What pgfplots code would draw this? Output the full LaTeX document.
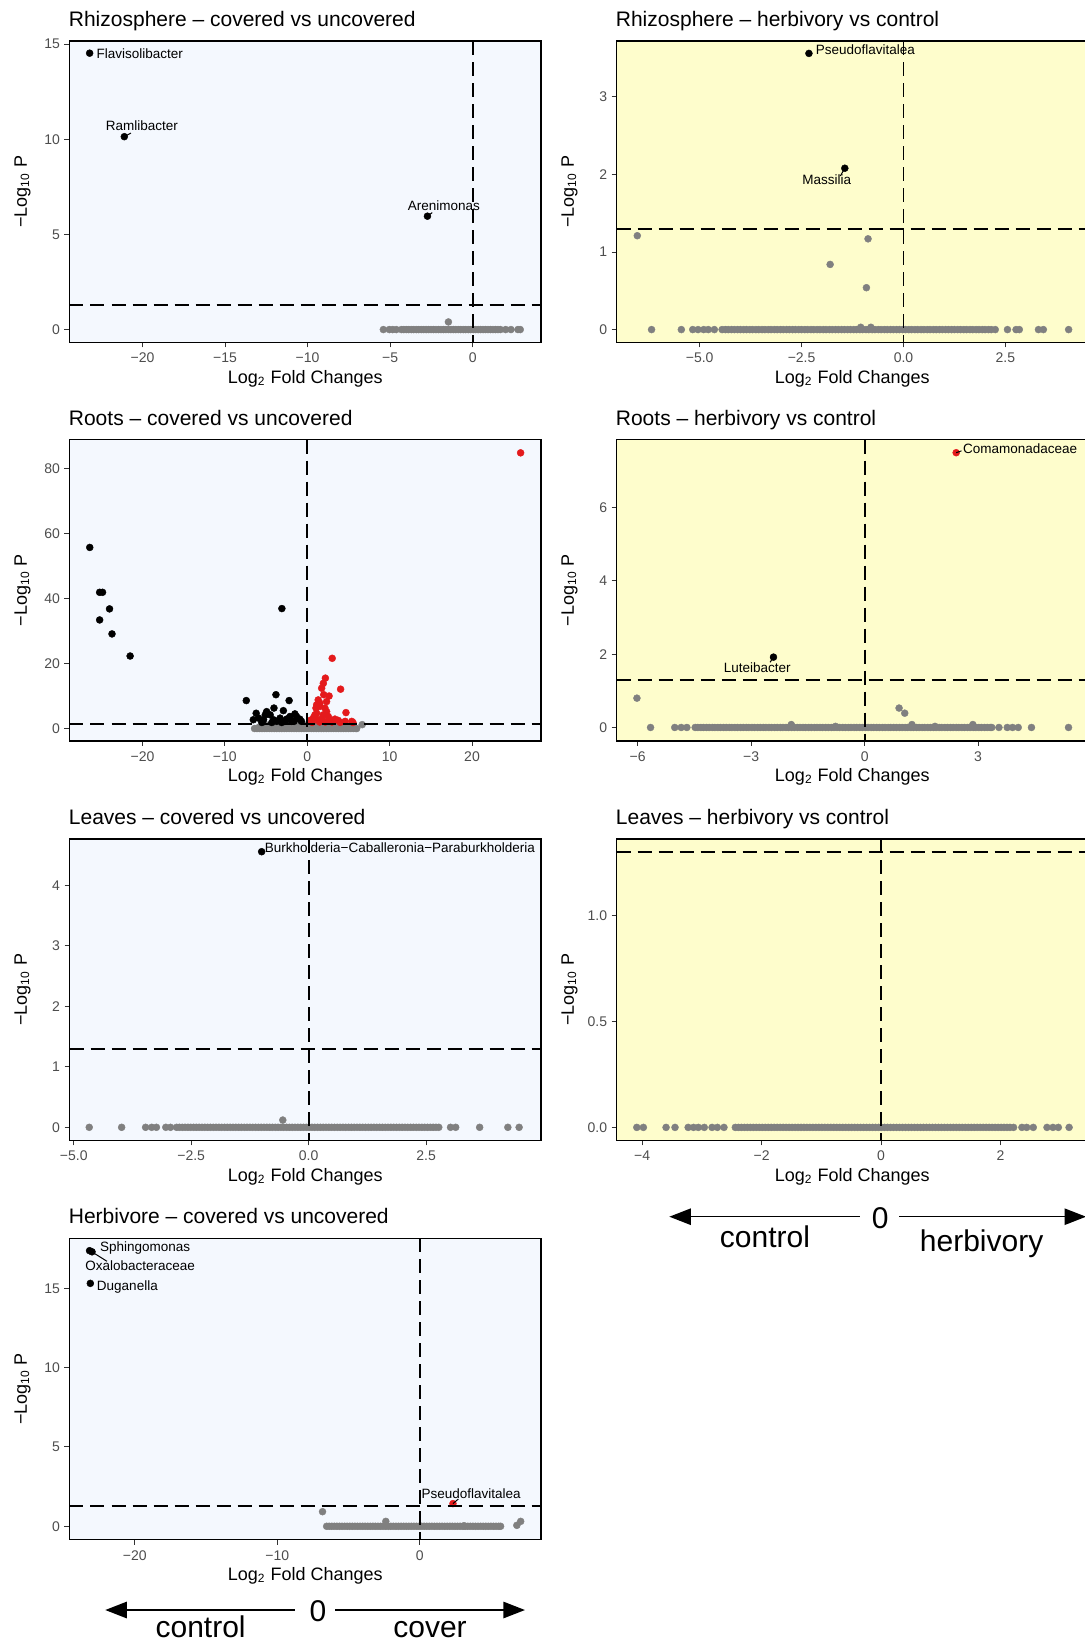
\documentclass[border=0pt]{standalone}
\usepackage{pgfplots}
\pgfplotsset{compat=1.18}
\usepackage{fontspec}
\setmainfont{Liberation Sans}
\definecolor{bgblue}{HTML}{F4F8FE}
\definecolor{bgyellow}{HTML}{FEFDCC}
\definecolor{ptgrey}{HTML}{808080}
\definecolor{ptred}{HTML}{E41A1C}
\definecolor{tickgrey}{HTML}{4D4D4D}
\newcommand\titlefont{\fontsize{10.5}{12}\selectfont}
\newcommand\labfont{\fontsize{9}{10.8}\selectfont}
\newcommand\tickfont{\fontsize{7}{8.4}\selectfont}
\newcommand\genefont{\fontsize{6.75}{8}\selectfont}
\newcommand\bigfont{\fontsize{15}{18}\selectfont}
\tikzset{
  thr/.style={line width=0.9pt, dash pattern=on 7pt off 3.5pt},
  lab/.style={font=\genefont, inner sep=0pt},
  seg/.style={line width=0.5pt},
}
\pgfplotsset{
  vol/.style={
    scale only axis, width=235.85pt, height=150.65pt,
    anchor=north west,
    tick pos=left, tick align=outside, major tick length=2.5pt,
    tick style={line width=0.5pt, black!80},
    axis line style={line width=0.8pt},
    ticklabel style={font=\tickfont, text=tickgrey},
    xticklabel style={anchor=base, yshift=-7.7pt},
    yticklabel style={anchor=east, xshift=1.3pt},
    every axis title/.style={at={(axis description cs:0,1)}, anchor=base west, yshift=7.2pt, xshift=-0.5pt, inner sep=0pt, font=\titlefont},
    xlabel={Log\textsubscript{2} Fold Changes},
    ylabel={−Log\textsubscript{10} P},
    every axis x label/.style={at={(axis description cs:0.5,0)}, anchor=base, yshift=-20.5pt, font=\labfont},
    every axis y label/.style={at={(axis description cs:-0.0996,0.5)}, rotate=90, anchor=center, font=\labfont},
    clip mode=individual,
  },
  leftbg/.style={axis background/.style={fill=bgblue}},
  rightbg/.style={axis background/.style={fill=bgyellow}},
  gpt/.style={only marks, mark=*, mark size=1.75pt, color=ptgrey, mark options={line width=0.2pt}},
  bpt/.style={only marks, mark=*, mark size=1.75pt, color=black, mark options={line width=0.2pt}},
  rpt/.style={only marks, mark=*, mark size=1.75pt, color=ptred, mark options={line width=0.2pt}},
}
\begin{document}
\begin{tikzpicture}
% ---------- Panel 1 ----------
\begin{axis}[vol, leftbg, at={(34.75pt,-20.5pt)},
  title={Rhizosphere – covered vs uncovered},
  xmin=-24.42, xmax=4.15, ymin=-0.67, ymax=15.17,
  xtick={-20,-15,-10,-5,0}, xticklabels={−20,−15,−10,−5,0},
  ytick={0,5,10,15}, yticklabels={0,5,10,15}]
\addplot[gpt] coordinates {(-1.47,0.4)
 (-5.41,0) (-5.05,0) (-4.84,0) (-4.63,0)
 (-4.32,0) (-4.17,0) (-4.02,0) (-3.87,0) (-3.72,0) (-3.57,0) (-3.42,0) (-3.27,0) (-3.12,0) (-2.97,0) (-2.82,0) (-2.67,0) (-2.52,0) (-2.37,0) (-2.22,0) (-2.07,0) (-1.92,0) (-1.77,0) (-1.62,0) (-1.47,0) (-1.32,0) (-1.17,0) (-1.02,0) (-0.87,0) (-0.72,0) (-0.57,0) (-0.42,0) (-0.27,0) (-0.12,0) (0.03,0) (0.18,0) (0.33,0) (0.48,0) (0.63,0) (0.78,0) (0.93,0) (1.08,0) (1.23,0) (1.38,0) (1.53,0) (1.68,0)
 (2.0,0) (2.32,0) (2.74,0) (2.88,0)};
\addplot[bpt] coordinates {(-23.2,14.53) (-21.1,10.14) (-2.74,5.96)};
\draw[thr] (axis cs:-24.42,1.301) -- (axis cs:4.15,1.301);
\draw[thr] (axis cs:0,15.17) -- (axis cs:0,-0.67);
\draw[seg] (axis cs:-21.1,10.14) -- (axis cs:-20.7,10.33);
\draw[seg] (axis cs:-2.74,5.96) -- (axis cs:-2.45,6.15);
\node[lab, anchor=base west] at (axis cs:-22.8,14.26) {Flavisolibacter};
\node[lab, anchor=base] at (axis cs:-20.03,10.44) {Ramlibacter};
\node[lab, anchor=base] at (axis cs:-1.74,6.25) {Arenimonas};
\end{axis}
% ---------- Panel 2 ----------
\begin{axis}[vol, rightbg, at={(308.25pt,-20.5pt)},
  title={Rhizosphere – herbivory vs control},
  xmin=-7.04, xmax=4.53, ymin=-0.164, ymax=3.72,
  xtick={-5,-2.5,0,2.5}, xticklabels={−5.0,−2.5,0.0,2.5},
  ytick={0,1,2,3}, yticklabels={0,1,2,3}]
\addplot[gpt] coordinates {(-6.53,1.21) (-0.87,1.17) (-1.80,0.84) (-0.91,0.54) (-1.05,0.03) (-0.8,0.03)
 (-6.18,0) (-5.45,0) (-5.17,0) (-5.04,0) (-4.90,0) (-4.79,0) (-4.64,0)
 (-4.45,0) (-4.37,0) (-4.30,0) (-4.22,0) (-4.15,0) (-4.07,0) (-4.00,0) (-3.92,0) (-3.85,0) (-3.77,0) (-3.70,0) (-3.62,0) (-3.55,0) (-3.47,0) (-3.40,0) (-3.32,0) (-3.25,0) (-3.17,0) (-3.10,0) (-3.02,0) (-2.95,0) (-2.87,0) (-2.80,0) (-2.72,0) (-2.65,0) (-2.57,0) (-2.50,0) (-2.42,0) (-2.35,0) (-2.27,0) (-2.20,0) (-2.12,0) (-2.05,0) (-1.97,0) (-1.90,0) (-1.82,0) (-1.75,0) (-1.67,0) (-1.60,0) (-1.52,0) (-1.45,0) (-1.37,0) (-1.30,0) (-1.22,0) (-1.15,0) (-1.07,0) (-1.00,0) (-0.92,0) (-0.85,0) (-0.77,0) (-0.70,0) (-0.62,0) (-0.55,0) (-0.47,0) (-0.40,0) (-0.32,0) (-0.25,0) (-0.17,0) (-0.10,0) (-0.02,0) (0.05,0) (0.13,0) (0.20,0) (0.28,0) (0.35,0) (0.43,0) (0.50,0) (0.58,0) (0.65,0) (0.73,0) (0.80,0) (0.88,0) (0.95,0) (1.03,0) (1.10,0) (1.18,0) (1.25,0) (1.33,0) (1.40,0) (1.48,0) (1.55,0) (1.63,0) (1.70,0) (1.78,0) (1.85,0) (1.93,0) (2.00,0) (2.08,0) (2.15,0) (2.25,0)
 (2.55,0) (2.76,0) (2.84,0) (3.31,0) (3.43,0) (4.05,0)};
\addplot[bpt] coordinates {(-2.32,3.56) (-1.44,2.08)};
\draw[thr] (axis cs:-7.04,1.301) -- (axis cs:4.53,1.301);
\draw[thr] (axis cs:0,3.72) -- (axis cs:0,-0.164);
\draw[seg] (axis cs:-1.44,2.08) -- (axis cs:-1.55,1.98);
\node[lab, anchor=base west] at (axis cs:-2.16,3.55) {Pseudoflavitalea};
\node[lab, anchor=base] at (axis cs:-1.88,1.87) {Massilia};
\end{axis}
% ---------- Panel 3 ----------
\begin{axis}[vol, leftbg, at={(34.75pt,-219.75pt)},
  title={Roots – covered vs uncovered},
  xmin=-28.86, xmax=28.4, ymin=-3.78, ymax=88.9,
  xtick={-20,-10,0,10,20}, xticklabels={−20,−10,0,10,20},
  ytick={0,20,40,60,80}, yticklabels={0,20,40,60,80}]
\addplot[gpt] coordinates {(6.67,1.2)
 (-6.4,0) (-6.1,0) (-5.8,0) (-5.5,0) (-5.2,0) (-4.9,0) (-4.6,0) (-4.3,0) (-4.0,0) (-3.7,0) (-3.4,0) (-3.1,0) (-2.8,0) (-2.5,0) (-2.2,0) (-1.9,0) (-1.6,0) (-1.3,0) (-1.0,0) (-0.7,0) (-0.4,0) (-0.1,0) (0.2,0) (0.5,0) (0.8,0) (1.1,0) (1.4,0) (1.7,0) (2.0,0) (2.3,0) (2.6,0) (2.9,0) (3.2,0) (3.5,0) (3.8,0) (4.1,0) (4.4,0) (4.7,0) (5.0,0) (5.3,0) (5.6,0) (5.9,0) (6.0,0)
 (-5.8,0.5) (-5.4,0.5) (-5.0,0.5) (-4.6,0.5) (-4.2,0.5) (-3.8,0.5) (-3.4,0.5) (-3.0,0.5) (-2.6,0.5) (-2.2,0.5) (-1.8,0.5) (-1.4,0.5) (-1.0,0.5) (-0.6,0.5) (-0.2,0.5) (0.2,0.5) (0.6,0.5) (1.0,0.5) (1.4,0.5) (1.8,0.5) (2.2,0.5) (2.6,0.5) (3.0,0.5) (3.4,0.5) (3.8,0.5) (4.2,0.5) (4.6,0.5) (5.0,0.5) (5.4,0.5)
 (-4.8,1.0) (-4.3,1.0) (-3.8,1.0) (-3.3,1.0) (-2.8,1.0) (-2.3,1.0) (-1.8,1.0) (-1.3,1.0) (-0.8,1.0) (-0.3,1.0) (0.2,1.0) (0.7,1.0) (1.2,1.0) (1.7,1.0) (2.2,1.0) (2.7,1.0) (3.2,1.0) (3.7,1.0) (4.2,1.0) (4.6,1.0)};
\addplot[bpt] coordinates {(-26.4,55.7) (-25.2,41.9) (-24.85,41.9) (-24.0,36.8) (-25.2,33.4) (-23.7,29.1) (-21.5,22.3) (-3.08,36.9)
 (-7.4,8.6) (-3.8,10.4) (-2.2,8.6) (-4.04,6.3) (-4.93,5.2) (-6.2,4.7) (-2.9,5.5) (-1.5,4.5) (-2.1,3.7) (-5.9,3.2) (-5.3,2.7) (-4.5,4.2) (-3.3,3.2) (-2.5,2.9) (-0.9,2.9) (-0.7,2.2) (-6.55,2.7) (-5.5,1.85) (-3.7,2.2) (-2.7,2.2) (-1.6,2.2) (-4.1,2.7) (-1.3,3.7) (-1.9,2.2) (-4.3,1.85) (-3.1,1.85) (-5.1,4.2)};
\addplot[rpt] coordinates {(25.9,84.8) (3.03,21.6) (2.2,15.5) (1.95,13.9) (1.75,12.4) (4.05,12.1) (2.0,10.4) (2.65,10.0) (1.33,8.8) (2.35,8.3) (1.54,6.8) (1.06,6.3) (2.15,6.3) (4.7,4.9) (1.14,4.7) (1.94,4.2) (2.55,3.7) (0.73,3.2) (3.36,2.9) (3.76,2.5) (5.4,2.2) (4.6,2.2) (1.33,2.7) (0.33,2.5) (2.75,2.5) (1.75,2.9) (0.93,4.2) (2.35,5.2) (1.54,7.8) (1.14,7.3) (5.55,1.85) (3.0,2.0) (2.2,2.0) (1.5,2.0) (0.6,1.9) (4.0,1.9)};
\draw[thr] (axis cs:-28.86,1.301) -- (axis cs:28.4,1.301);
\draw[thr] (axis cs:0,88.9) -- (axis cs:0,-3.78);
\end{axis}
% ---------- Panel 4 ----------
\begin{axis}[vol, rightbg, at={(308.25pt,-219.75pt)},
  title={Roots – herbivory vs control},
  xmin=-6.56, xmax=5.91, ymin=-0.364, ymax=7.86,
  xtick={-6,-3,0,3}, xticklabels={−6,−3,0,3},
  ytick={0,2,4,6}, yticklabels={0,2,4,6}]
\addplot[gpt] coordinates {(-6.02,0.80) (0.91,0.53) (1.06,0.39) (-1.94,0.08) (1.25,0.08) (2.86,0.08) (-0.77,0.03) (1.86,0.03)
 (-5.66,0) (-5.02,0) (-4.85,0) (-4.70,0)
 (-4.48,0) (-4.41,0) (-4.33,0) (-4.26,0) (-4.18,0) (-4.11,0) (-4.03,0) (-3.96,0) (-3.88,0) (-3.81,0) (-3.73,0) (-3.66,0) (-3.58,0) (-3.51,0) (-3.43,0) (-3.36,0) (-3.28,0) (-3.21,0) (-3.13,0) (-3.06,0) (-2.98,0) (-2.91,0) (-2.83,0) (-2.76,0) (-2.68,0) (-2.61,0) (-2.53,0) (-2.46,0) (-2.38,0) (-2.31,0) (-2.23,0) (-2.16,0) (-2.08,0) (-2.01,0) (-1.93,0) (-1.86,0) (-1.78,0) (-1.71,0) (-1.63,0) (-1.56,0) (-1.48,0) (-1.41,0) (-1.33,0) (-1.26,0) (-1.18,0) (-1.11,0) (-1.03,0) (-0.96,0) (-0.88,0) (-0.81,0) (-0.73,0) (-0.66,0) (-0.58,0) (-0.51,0) (-0.43,0) (-0.36,0) (-0.28,0) (-0.21,0) (-0.13,0) (-0.06,0) (0.02,0) (0.09,0) (0.17,0) (0.24,0) (0.32,0) (0.39,0) (0.47,0) (0.54,0) (0.62,0) (0.69,0) (0.77,0) (0.84,0) (0.92,0) (0.99,0) (1.07,0) (1.14,0) (1.22,0) (1.29,0) (1.37,0) (1.44,0) (1.52,0) (1.59,0) (1.67,0) (1.74,0) (1.82,0) (1.89,0) (1.97,0) (2.04,0) (2.12,0) (2.19,0) (2.27,0) (2.34,0) (2.42,0) (2.49,0) (2.57,0) (2.64,0) (2.72,0) (2.79,0) (2.87,0) (2.94,0) (3.02,0) (3.09,0) (3.17,0) (3.24,0) (3.32,0) (3.36,0)
 (3.55,0) (3.77,0) (3.91,0) (4.06,0) (4.41,0) (5.39,0)};
\addplot[bpt] coordinates {(-2.41,1.92)};
\addplot[rpt] coordinates {(2.42,7.50)};
\draw[thr] (axis cs:-6.56,1.301) -- (axis cs:5.91,1.301);
\draw[thr] (axis cs:0,7.86) -- (axis cs:0,-0.364);
\draw[seg] (axis cs:-2.41,1.92) -- (axis cs:-2.5,1.78);
\draw[seg] (axis cs:2.42,7.5) -- (axis cs:2.56,7.55);
\node[lab, anchor=base west] at (axis cs:2.59,7.48) {Comamonadaceae};
\node[lab, anchor=base] at (axis cs:-2.84,1.50) {Luteibacter};
\end{axis}
% ---------- Panel 5 ----------
\begin{axis}[vol, leftbg, at={(34.75pt,-419.5pt)},
  title={Leaves – covered vs uncovered},
  xmin=-5.09, xmax=4.95, ymin=-0.215, ymax=4.77,
  xtick={-5,-2.5,0,2.5}, xticklabels={−5.0,−2.5,0.0,2.5},
  ytick={0,1,2,3,4}, yticklabels={0,1,2,3,4}]
\addplot[gpt] coordinates {(-0.55,0.12)
 (-4.67,0) (-3.98,0) (-3.47,0) (-3.34,0) (-3.24,0) (-3.04,0) (-2.94,0)
 (-2.81,0) (-2.75,0) (-2.69,0) (-2.63,0) (-2.57,0) (-2.51,0) (-2.45,0) (-2.39,0) (-2.33,0) (-2.27,0) (-2.21,0) (-2.15,0) (-2.09,0) (-2.03,0) (-1.97,0) (-1.91,0) (-1.85,0) (-1.79,0) (-1.73,0) (-1.67,0) (-1.61,0) (-1.55,0) (-1.49,0) (-1.43,0) (-1.37,0) (-1.31,0) (-1.25,0) (-1.19,0) (-1.13,0) (-1.07,0) (-1.01,0) (-0.95,0) (-0.89,0) (-0.83,0) (-0.77,0) (-0.71,0) (-0.65,0) (-0.59,0) (-0.53,0) (-0.47,0) (-0.41,0) (-0.35,0) (-0.29,0) (-0.23,0) (-0.17,0) (-0.11,0) (-0.05,0) (0.01,0) (0.07,0) (0.13,0) (0.19,0) (0.25,0) (0.31,0) (0.37,0) (0.43,0) (0.49,0) (0.55,0) (0.61,0) (0.67,0) (0.73,0) (0.79,0) (0.85,0) (0.91,0) (0.97,0) (1.03,0) (1.09,0) (1.15,0) (1.21,0) (1.27,0) (1.33,0) (1.39,0) (1.45,0) (1.51,0) (1.57,0) (1.63,0) (1.69,0) (1.75,0) (1.81,0) (1.87,0) (1.93,0) (1.99,0) (2.05,0) (2.11,0) (2.17,0) (2.23,0) (2.29,0) (2.35,0) (2.41,0) (2.47,0) (2.53,0) (2.59,0) (2.65,0) (2.71,0) (2.77,0)
 (3.02,0) (3.13,0) (3.64,0) (4.24,0) (4.48,0)};
\addplot[bpt] coordinates {(-1.0,4.56)};
\draw[thr] (axis cs:-5.09,1.301) -- (axis cs:4.95,1.301);
\draw[thr] (axis cs:0,4.77) -- (axis cs:0,-0.215);
\node[lab, anchor=base west] at (axis cs:-0.94,4.55) {Burkholderia−Caballeronia−Paraburkholderia};
\end{axis}
% ---------- Panel 6 ----------
\begin{axis}[vol, rightbg, at={(308.25pt,-419.5pt)},
  title={Leaves – herbivory vs control},
  xmin=-4.43, xmax=3.47, ymin=-0.061, ymax=1.362,
  xtick={-4,-2,0,2}, xticklabels={−4,−2,0,2},
  ytick={0,0.5,1}, yticklabels={0.0,0.5,1.0}]
\addplot[gpt] coordinates {
 (-4.09,0) (-3.98,0) (-3.60,0) (-3.45,0) (-3.23,0) (-3.14,0) (-3.06,0) (-2.96,0) (-2.83,0) (-2.74,0) (-2.63,0)
 (-2.44,0) (-2.39,0) (-2.34,0) (-2.29,0) (-2.24,0) (-2.19,0) (-2.14,0) (-2.09,0) (-2.04,0) (-1.99,0) (-1.94,0) (-1.89,0) (-1.84,0) (-1.79,0) (-1.74,0) (-1.69,0) (-1.64,0) (-1.59,0) (-1.54,0) (-1.49,0) (-1.44,0) (-1.39,0) (-1.34,0) (-1.29,0) (-1.24,0) (-1.19,0) (-1.14,0) (-1.09,0) (-1.04,0) (-0.99,0) (-0.94,0) (-0.89,0) (-0.84,0) (-0.79,0) (-0.74,0) (-0.69,0) (-0.64,0) (-0.59,0) (-0.54,0) (-0.49,0) (-0.44,0) (-0.39,0) (-0.34,0) (-0.29,0) (-0.24,0) (-0.19,0) (-0.14,0) (-0.09,0) (-0.04,0) (0.01,0) (0.06,0) (0.11,0) (0.16,0) (0.21,0) (0.26,0) (0.31,0) (0.36,0) (0.41,0) (0.46,0) (0.51,0) (0.56,0) (0.61,0) (0.66,0) (0.71,0) (0.76,0) (0.81,0) (0.86,0) (0.91,0) (0.96,0) (1.01,0) (1.06,0) (1.11,0) (1.16,0) (1.21,0) (1.26,0) (1.31,0) (1.36,0) (1.41,0) (1.46,0) (1.51,0) (1.56,0) (1.61,0) (1.66,0) (1.71,0) (1.76,0) (1.81,0) (1.86,0) (1.91,0) (1.96,0) (2.01,0) (2.06,0) (2.11,0) (2.16,0) (2.22,0)
 (2.36,0) (2.44,0) (2.55,0) (2.78,0) (2.88,0) (2.97,0) (3.15,0)};
\draw[thr] (axis cs:-4.43,1.301) -- (axis cs:3.47,1.301);
\draw[thr] (axis cs:0,1.362) -- (axis cs:0,-0.061);
\end{axis}
% ---------- Panel 7 ----------
\begin{axis}[vol, leftbg, at={(34.75pt,-619.15pt)},
  title={Herbivore – covered vs uncovered},
  xmin=-24.58, xmax=8.51, ymin=-0.84, ymax=18.15,
  xtick={-20,-10,0}, xticklabels={−20,−10,0},
  ytick={0,5,10,15}, yticklabels={0,5,10,15}]
\addplot[gpt] coordinates {(-6.83,0.92) (-2.39,0.31) (6.8,0.06) (7.07,0.31) (3.1,0.03)
 (-6.54,0) (-6.36,0) (-6.18,0) (-6.00,0) (-5.82,0) (-5.64,0) (-5.46,0) (-5.28,0) (-5.10,0) (-4.92,0) (-4.74,0) (-4.56,0) (-4.38,0) (-4.20,0) (-4.02,0) (-3.84,0) (-3.66,0) (-3.48,0) (-3.30,0) (-3.12,0) (-2.94,0) (-2.76,0) (-2.58,0) (-2.40,0) (-2.22,0) (-2.04,0) (-1.86,0) (-1.68,0) (-1.50,0) (-1.32,0) (-1.14,0) (-0.96,0) (-0.78,0) (-0.60,0) (-0.42,0) (-0.24,0) (-0.06,0) (0.12,0) (0.30,0) (0.48,0) (0.66,0) (0.84,0) (1.02,0) (1.20,0) (1.38,0) (1.56,0) (1.74,0) (1.92,0) (2.10,0) (2.28,0) (2.46,0) (2.64,0) (2.82,0) (3.00,0) (3.18,0) (3.36,0) (3.54,0) (3.72,0) (3.90,0) (4.08,0) (4.26,0) (4.44,0) (4.62,0) (4.80,0) (4.98,0) (5.16,0) (5.34,0) (5.52,0) (5.66,0)};
\addplot[bpt] coordinates {(-23.17,17.37) (-23.0,17.3) (-23.12,15.31)};
\addplot[rpt] coordinates {(2.32,1.43)};
\draw[thr] (axis cs:-24.58,1.301) -- (axis cs:8.51,1.301);
\draw[thr] (axis cs:0,18.15) -- (axis cs:0,-0.84);
\draw[seg] (axis cs:-23.1,17.35) -- (axis cs:-21.95,16.7);
\draw[seg] (axis cs:2.32,1.43) -- (axis cs:2.7,1.72);
\node[lab, anchor=base west] at (axis cs:-22.46,17.35) {Sphingomonas};
\node[lab, anchor=base] at (axis cs:-19.63,16.15) {Oxalobacteraceae};
\node[lab, anchor=base west] at (axis cs:-22.68,14.89) {Duganella};
\node[lab, anchor=base] at (axis cs:3.59,1.78) {Pseudoflavitalea};
\end{axis}
% ---------- Direction arrows ----------
\fill (334.7pt,-608.35pt) -- ++(10.75pt,4.2pt) -- ++(0pt,-8.4pt) -- cycle;
\draw[line width=0.75pt] (340pt,-608.35pt) -- (429.75pt,-608.35pt);
\draw[line width=0.75pt] (449.5pt,-608.35pt) -- (537pt,-608.35pt);
\fill (543pt,-608.35pt) -- ++(-10.75pt,4.2pt) -- ++(0pt,-8.4pt) -- cycle;
\node[font=\bigfont, anchor=base, inner sep=0pt] at (440.1pt,-614.15pt) {0};
\node[font=\bigfont, anchor=base, inner sep=0pt] at (382.5pt,-623.75pt) {control};
\node[font=\bigfont, anchor=base, inner sep=0pt] at (490.8pt,-625.5pt) {herbivory};
\fill (52.65pt,-805pt) -- ++(10.75pt,4.2pt) -- ++(0pt,-8.4pt) -- cycle;
\draw[line width=0.75pt] (58pt,-805pt) -- (147.7pt,-805pt);
\draw[line width=0.75pt] (167.7pt,-805pt) -- (257pt,-805pt);
\fill (262.45pt,-805pt) -- ++(-10.75pt,4.2pt) -- ++(0pt,-8.4pt) -- cycle;
\node[font=\bigfont, anchor=base, inner sep=0pt] at (159pt,-810.85pt) {0};
\node[font=\bigfont, anchor=base, inner sep=0pt] at (100.3pt,-818.75pt) {control};
\node[font=\bigfont, anchor=base, inner sep=0pt] at (215pt,-818.75pt) {cover};
\pgfresetboundingbox
\useasboundingbox (0pt,0pt) rectangle (542pt,-822pt);
\end{tikzpicture}
\end{document}
